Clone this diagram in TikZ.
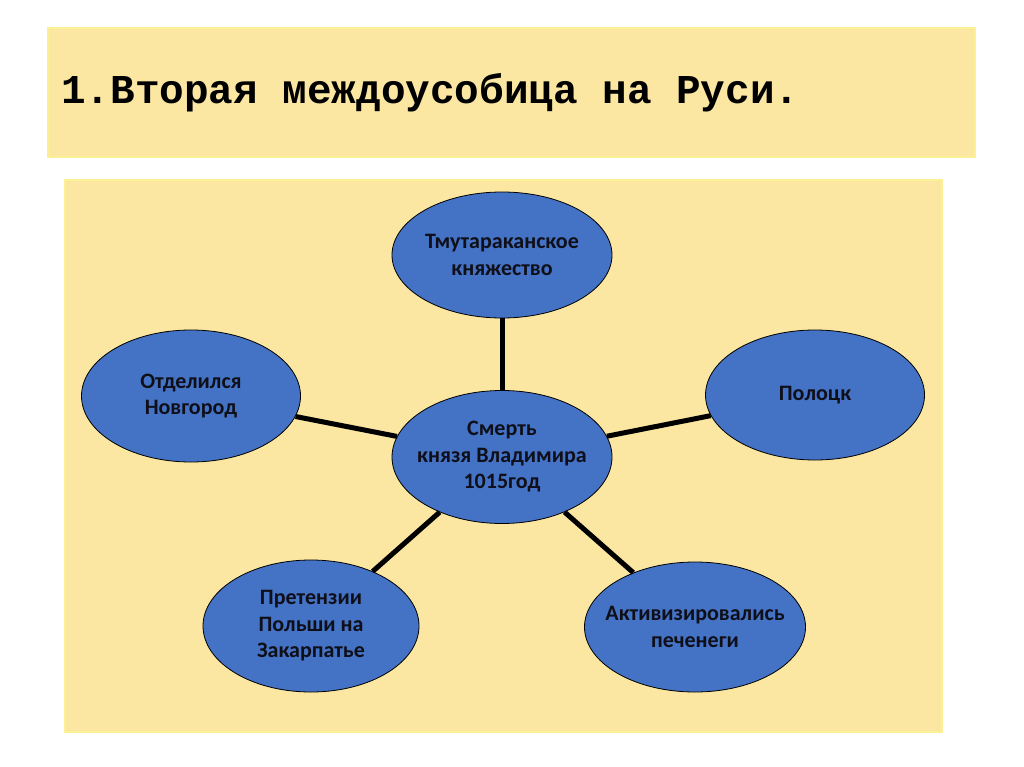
\documentclass[tikz,border=0pt]{standalone}
\usepackage{fontspec}
\setmainfont{Carlito}
\newfontfamily\titlefont{Liberation Mono}
\usepackage{xcolor}
\usetikzlibrary{shapes.geometric, positioning}

\definecolor{panelfill}{RGB}{251,230,162}
\definecolor{panelrim}{RGB}{252,240,150}
\definecolor{bubblefill}{RGB}{68,114,196}
\definecolor{bubbletext}{RGB}{15,15,25}

\begin{document}
\begin{tikzpicture}[
    x=1pt, y=-1pt,
    panel/.style={draw=panelrim, line width=1.5pt, fill=panelfill},
    bubble/.style={ellipse, draw=black, line width=0.8pt, fill=bubblefill,
        inner xsep=-40pt, inner ysep=-30pt,
        minimum width=219pt, minimum height=130pt, align=center,
        font=\fontsize{22}{26.5}\selectfont\bfseries, text=bubbletext},
    link/.style={line width=5pt, black},
]
\useasboundingbox (0,0) rectangle (1024,767);

% Title bar
\draw[panel] (48,28) rectangle (975,157);
\node[anchor=base west, inner sep=0pt, font=\titlefont\fontsize{41}{45}\selectfont\bfseries] (title) at (61,104) {1.Вторая междоусобица на Руси.};

% Diagram panel
\draw[panel] (65,180) rectangle (942,732);

% Centre
\node[bubble, minimum width=220pt, minimum height=133pt] (death) at (502,457) {Смерть\\князя Владимира\\1015год};

% Outer bubbles
\node[bubble, minimum width=220pt, minimum height=126pt] (tmut) at (502,255) {Тмутараканское\\княжество};
\node[bubble, minimum height=132pt] (novgorod) at (191,396) {Отделился\\Новгород};
\node[bubble] (polotsk) at (815,395) {Полоцк};
\node[bubble, minimum width=216pt, minimum height=132pt] (poland) at (311,626) {Претензии\\Польши на\\Закарпатье};
\node[bubble, minimum width=221pt] (pechen) at (695,627) {Активизировались\\печенеги};

% Links
\draw[link] (death) -- (tmut);
\draw[link] (death) -- (novgorod);
\draw[link] (death) -- (polotsk);
\draw[link] (death) -- (poland);
\draw[link] (death) -- (pechen);

\end{tikzpicture}
\end{document}
